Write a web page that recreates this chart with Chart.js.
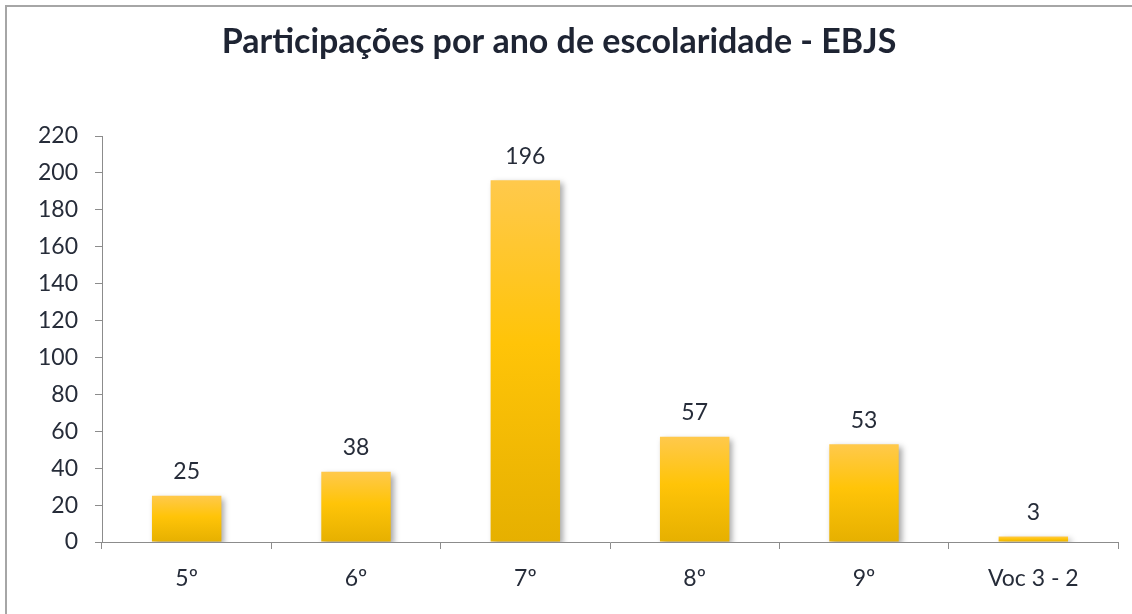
<!DOCTYPE html>
<html>
<head>
<meta charset="utf-8">
<script src="https://cdn.jsdelivr.net/npm/chart.js@4"></script>
<style>
  html, body { margin: 0; padding: 0; background: #fff; }
  #wrap { position: relative; width: 1132px; height: 614px; overflow: hidden; }
  #frame { position: absolute; left: 5px; top: 5px; width: 1140px; height: 620px;
           border-top: 2px solid #a6a6a6; border-left: 2px solid #a6a6a6; }
  canvas { position: absolute; left: 0; top: 0; }
</style>
</head>
<body>
<div id="wrap">
  <div id="frame"></div>
  <canvas id="chart" width="1132" height="614"></canvas>
</div>
<script>
// data
const categories = ['5º', '6º', '7º', '8º', '9º', 'Voc 3 - 2'];
const participacoes = [25, 38, 196, 57, 53, 3];
const yTicks = { min: 0, max: 220, step: 20 };

const FONT = 'Lato, "Open Sans", sans-serif';
const TEXT = '#262c39';
const AXIS = '#8c8c8c';

// gradient per bar, top lighter -> golden -> darker at the base
function barFill(ctx) {
  const chart = ctx.chart;
  const y = chart.scales.y;
  if (!chart.chartArea || !y) return '#ffc40a';
  const top = y.getPixelForValue(ctx.raw);
  const base = y.getPixelForValue(0);
  if (!isFinite(top) || !isFinite(base) || base - top < 1) return '#ffc40a';
  const g = chart.ctx.createLinearGradient(0, top, 0, base);
  g.addColorStop(0, '#ffc94c');
  g.addColorStop(0.45, '#ffc408');
  g.addColorStop(1, '#e6b000');
  return g;
}

// soft shadow behind bars
const barShadow = {
  id: 'barShadow',
  beforeDatasetsDraw(chart) {
    const c = chart.ctx;
    c.save();
    c.shadowColor = 'rgba(0,0,0,0.35)';
    c.shadowBlur = 6;
    c.shadowOffsetX = 3;
    c.shadowOffsetY = 3;
  },
  afterDatasetsDraw(chart) {
    chart.ctx.restore();
  }
};

// value labels above each bar
const valueLabels = {
  id: 'valueLabels',
  afterDraw(chart) {
    const c = chart.ctx;
    const meta = chart.getDatasetMeta(0);
    c.save();
    c.font = '23px ' + FONT;
    c.fillStyle = TEXT;
    c.textAlign = 'center';
    c.textBaseline = 'middle';
    meta.data.forEach((bar, i) => {
      c.fillText(String(participacoes[i]), bar.x, bar.y - 24);
    });
    c.restore();
  }
};

new Chart(document.getElementById('chart'), {
  type: 'bar',
  data: {
    labels: categories,
    datasets: [{
      data: participacoes,
      backgroundColor: barFill,
      borderWidth: 0,
      categoryPercentage: 1,
      barPercentage: 0.41
    }]
  },
  options: {
    responsive: false,
    animation: false,
    layout: { padding: { left: 0, right: 14, top: 0, bottom: 0 } },
    plugins: {
      legend: { display: false },
      tooltip: { enabled: false },
      title: {
        display: true,
        text: 'Participações por ano de escolaridade - EBJS',
        color: '#1e2433',
        font: { family: FONT, size: 34, weight: 'bold', lineHeight: 1.2 },
        padding: { top: 22, bottom: 73.2 }
      }
    },
    scales: {
      x: {
        afterFit(s) { s.height = 72; },
        grid: { display: true, drawOnChartArea: false, drawTicks: true, tickLength: 7, color: AXIS, offset: true },
        border: { display: true, color: AXIS, width: 1 },
        ticks: { color: TEXT, font: { family: FONT, size: 23 }, padding: 16 }
      },
      y: {
        min: yTicks.min,
        max: yTicks.max,
        afterFit(s) { s.width = 102; },
        grid: { display: true, drawOnChartArea: false, drawTicks: true, tickLength: 7, color: AXIS },
        border: { display: true, color: AXIS, width: 1 },
        ticks: { stepSize: yTicks.step, color: TEXT, font: { family: FONT, size: 23 }, padding: 17 }
      }
    }
  },
  plugins: [barShadow, valueLabels]
});
</script>
</body>
</html>
